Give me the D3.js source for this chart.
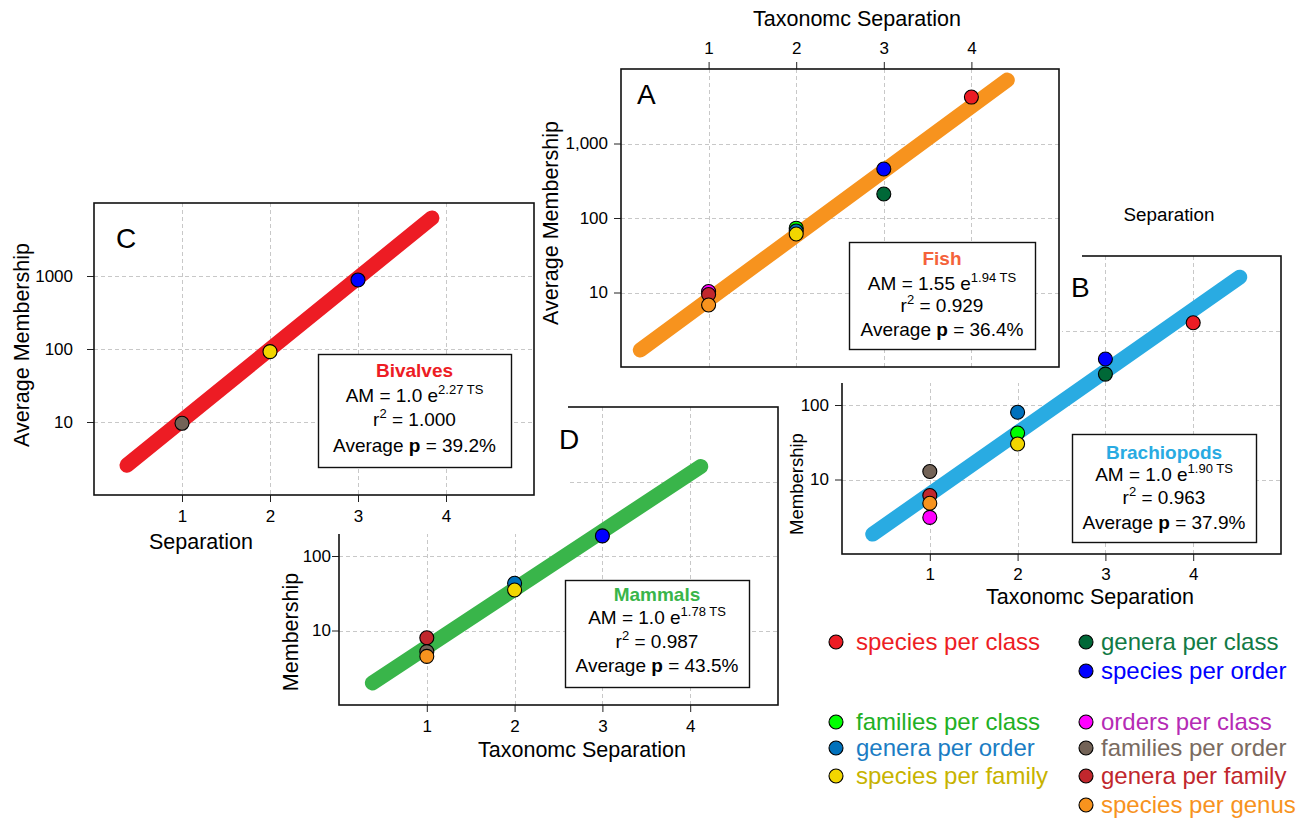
<!DOCTYPE html>
<html>
<head>
<meta charset="utf-8">
<script src="https://d3js.org/d3.v7.min.js"></script>
<style>
body { margin: 0; background: #fff; }
</style>
</head>
<body>
<div id="chart"></div>
<script>
// ---------------- data ----------------
const tsTicks = [1, 2, 3, 4];
const amTicks = [10, 100, 1000];

const categories = ["species per class", "genera per class", "species per order",
  "families per class", "orders per class", "genera per order",
  "families per order", "species per family", "genera per family", "species per genus"];

// A - fish
const fishPoints = [
  {ts: 1, am: 10.3, cat: "orders per class"},
  {ts: 1, am: 9.4, cat: "genera per family"},
  {ts: 1, am: 6.8, cat: "species per genus"},
  {ts: 2, am: 73, cat: "families per class"},
  {ts: 2, am: 67, cat: "genera per order"},
  {ts: 2, am: 61, cat: "species per family"},
  {ts: 3, am: 210, cat: "genera per class"},
  {ts: 3, am: 455, cat: "species per order"},
  {ts: 4, am: 4200, cat: "species per class"}
];
const fishFit = [{ts: 0.22, am: 1.69}, {ts: 4.41, am: 7100}];
const fishStats = {name: "Fish", coef: "1.55", rate: "1.94", r2: "0.929", p: "36.4%"};

// B - brachiopods
const brachPoints = [
  {ts: 1, am: 12.8, cat: "families per order"},
  {ts: 1, am: 6.1, cat: "genera per family"},
  {ts: 1, am: 4.8, cat: "species per genus"},
  {ts: 1, am: 3.1, cat: "orders per class"},
  {ts: 2, am: 80, cat: "genera per order"},
  {ts: 2, am: 42, cat: "families per class"},
  {ts: 2, am: 30, cat: "species per family"},
  {ts: 3, am: 414, cat: "species per order"},
  {ts: 3, am: 260, cat: "genera per class"},
  {ts: 4, am: 1270, cat: "species per class"}
];
const brachFit = [{ts: 0.35, am: 1.85}, {ts: 4.53, am: 5200}];
const brachStats = {name: "Brachiopods", coef: "1.0", rate: "1.90", r2: "0.963", p: "37.9%"};

// C - bivalves
const bivalvePoints = [
  {ts: 1, am: 9.6, cat: "families per order"},
  {ts: 2, am: 92, cat: "species per family"},
  {ts: 3, am: 883, cat: "species per order"}
];
const bivalveFit = [{ts: 0.375, am: 2.56}, {ts: 3.84, am: 6250}];
const bivalveStats = {name: "Bivalves", coef: "1.0", rate: "2.27", r2: "1.000", p: "39.2%"};

// D - mammals
const mammalPoints = [
  {ts: 1, am: 8.0, cat: "genera per family"},
  {ts: 1, am: 5.2, cat: "families per order"},
  {ts: 1, am: 4.5, cat: "species per genus"},
  {ts: 2, am: 43, cat: "genera per order"},
  {ts: 2, am: 35, cat: "species per family"},
  {ts: 3, am: 186, cat: "species per order"}
];
const mammalFit = [{ts: 0.38, am: 1.98}, {ts: 4.12, am: 1590}];
const mammalStats = {name: "Mammals", coef: "1.0", rate: "1.78", r2: "0.987", p: "43.5%"};

// ---------------- styles ----------------
const FONT = "'Liberation Sans', Arial, Helvetica, sans-serif";
const catFill = {
  "species per class": "#ed1c24", "genera per class": "#006837", "species per order": "#0000ff",
  "families per class": "#00ff00", "orders per class": "#ff00ff", "genera per order": "#0071bc",
  "families per order": "#736357", "species per family": "#f2d600", "genera per family": "#c1272d",
  "species per genus": "#f7931e"
};
const catText = {
  "species per class": "#ed1c24", "genera per class": "#117a45", "species per order": "#0000ff",
  "families per class": "#22b024", "orders per class": "#b52bb5", "genera per order": "#1b7dc4",
  "families per order": "#7a6b60", "species per family": "#c7b300", "genera per family": "#c1272d",
  "species per genus": "#f7931e"
};
const fitColor = {Fish: "#f7931e", Brachiopods: "#29abe2", Bivalves: "#ed1c24", Mammals: "#39b54a"};
const nameColor = {Fish: "#f4623a", Brachiopods: "#29abe2", Bivalves: "#ed1c24", Mammals: "#39b54a"};

const svg = d3.select("#chart").append("svg")
  .attr("width", 1307).attr("height", 820)
  .style("font-family", FONT);

const deferred = [];   // things drawn after every panel (on top)

// ---------------- panel drawing ----------------
function drawPanel(p) {
  const g = svg.append("g");

  // white background of the pasted panel (hides what lies below)
  (p.cover || []).forEach(c => g.append("rect")
    .attr("x", c[0]).attr("y", c[1]).attr("width", c[2]).attr("height", c[3])
    .attr("fill", "#fff"));

  const x = d3.scaleLinear().domain([0, 5]).range([p.left, p.right]);
  const y = d3.scaleLog().domain([1, 1e4]).range([p.bottom, p.top]);

  // grid
  g.selectAll(null).data(tsTicks).join("line")
    .attr("x1", d => Math.round(x(d)) + 0.5).attr("x2", d => Math.round(x(d)) + 0.5)
    .attr("y1", p.top).attr("y2", p.bottom)
    .attr("stroke", "#c8c8c8").attr("stroke-dasharray", "4,3");
  g.selectAll(null).data(amTicks).join("line")
    .attr("y1", d => Math.round(y(d)) + 0.5).attr("y2", d => Math.round(y(d)) + 0.5)
    .attr("x1", p.left).attr("x2", p.right)
    .attr("stroke", "#c8c8c8").attr("stroke-dasharray", "4,3");

  // axes
  const xAxis = (p.xTop ? d3.axisTop(x) : d3.axisBottom(x))
    .tickValues(tsTicks).tickFormat(d3.format("d")).tickSize(7).tickPadding(p.xPad || 8);
  g.append("g")
    .attr("transform", `translate(0,${p.xTop ? p.top : p.bottom})`)
    .call(xAxis)
    .call(a => a.select(".domain").remove())
    .attr("font-size", 17).attr("font-family", FONT)
    .call(a => a.selectAll("line").attr("stroke", "#222"));

  const yAxis = d3.axisLeft(y).tickValues(amTicks).tickFormat(p.yFmt)
    .tickSize(7).tickPadding(p.yPad);
  g.append("g")
    .attr("transform", `translate(${p.left},0)`)
    .call(yAxis)
    .call(a => a.select(".domain").remove())
    .attr("font-size", 17).attr("font-family", FONT)
    .call(a => a.selectAll("line").attr("stroke", "#222"));

  // frame
  g.append("rect")
    .attr("x", p.left).attr("y", p.top)
    .attr("width", p.right - p.left).attr("height", p.bottom - p.top)
    .attr("fill", "none").attr("stroke", "#111").attr("stroke-width", 1.6);

  // axis titles
  g.append("text").attr("x", p.xTitle[0]).attr("y", p.xTitle[1])
    .attr("text-anchor", "middle").attr("font-size", p.xTitle[3] || 21.5)
    .text(p.xTitle[2]);
  g.append("text")
    .attr("transform", `translate(${p.yTitle[0]},${p.yTitle[1]}) rotate(-90)`)
    .attr("text-anchor", "middle").attr("font-size", p.yTitle[3] || 21.5)
    .text(p.yTitle[2]);
  if (p.extraText) {
    g.append("text").attr("x", p.extraText[0]).attr("y", p.extraText[1])
      .attr("text-anchor", "middle").attr("font-size", p.extraText[3])
      .text(p.extraText[2]);
  }

  // panel letter
  const letter = sel => sel.append("text").attr("x", p.letter[0]).attr("y", p.letter[1])
    .attr("font-size", 28).text(p.letter[2]);
  if (p.letterOnTop) deferred.push(letter); else letter(g);

  // fitted line
  const line = d3.line().x(d => x(d.ts)).y(d => y(d.am));
  g.append("path").datum(p.fit)
    .attr("d", line)
    .attr("fill", "none")
    .attr("stroke", fitColor[p.stats.name])
    .attr("stroke-width", 15)
    .attr("stroke-linecap", "round");

  // points
  g.selectAll(null).data(p.points).join("circle")
    .attr("cx", d => x(d.ts)).attr("cy", d => y(d.am)).attr("r", 7)
    .attr("fill", d => catFill[d.cat])
    .attr("stroke", "#000").attr("stroke-width", 1.1);

  // stats box
  const b = p.box;
  const cx = b[0] + b[2] / 2;
  g.append("rect").attr("x", b[0] + 0.5).attr("y", b[1] + 0.5)
    .attr("width", b[2]).attr("height", b[3])
    .attr("fill", "#fff").attr("stroke", "#111").attr("stroke-width", 1.4);
  const rows = p.rows;
  const s = p.stats;
  g.append("text").attr("x", cx).attr("y", b[1] + rows[0] + 7)
    .attr("text-anchor", "middle").attr("font-size", 19).attr("font-weight", "bold")
    .attr("fill", nameColor[s.name]).text(s.name);
  const t2 = g.append("text").attr("x", cx).attr("y", b[1] + rows[1] + 7)
    .attr("text-anchor", "middle").attr("font-size", 19);
  t2.append("tspan").text("AM = " + s.coef + " e");
  t2.append("tspan").attr("dy", -8).attr("font-size", 13).text(s.rate + " TS");
  const t3 = g.append("text").attr("x", cx).attr("y", b[1] + rows[2] + 7)
    .attr("text-anchor", "middle").attr("font-size", 19);
  t3.append("tspan").text("r");
  t3.append("tspan").attr("dy", -8).attr("font-size", 13).text("2");
  t3.append("tspan").attr("dy", 8).text(" = " + s.r2);
  const t4 = g.append("text").attr("x", cx).attr("y", b[1] + rows[3] + 7)
    .attr("text-anchor", "middle").attr("font-size", 19);
  t4.append("tspan").text("Average ");
  t4.append("tspan").attr("font-weight", "bold").text("p");
  t4.append("tspan").text(" = " + s.p);
}

const plain = d => String(d);

// B (bottom layer)
drawPanel({
  left: 842, right: 1281, top: 256, bottom: 554, xTop: false,
  yFmt: plain, yPad: 6, xPad: 7,
  xTitle: [1090, 603.5, "Taxonomc Separation"],
  yTitle: [803, 484, "Membership", 18.5],
  extraText: [1169, 221, "Separation", 18.8],
  letter: [1071, 297, "B"],
  box: [1072, 434, 184, 108], rows: [18, 40, 63, 88],
  fit: brachFit, points: brachPoints, stats: brachStats
});

// D
drawPanel({
  left: 339, right: 778, top: 407, bottom: 705, xTop: false,
  yFmt: plain, yPad: 1,
  xTitle: [582, 757, "Taxonomc Separation"],
  yTitle: [298, 632, "Membership"],
  letter: [559, 449, "D"], letterOnTop: true,
  box: [565, 580, 184, 107], rows: [14, 37, 61, 85],
  fit: mammalFit, points: mammalPoints, stats: mammalStats
});

// C (covers part of D)
drawPanel({
  cover: [[0, 185, 568, 349]],
  left: 94, right: 534, top: 203, bottom: 495, xTop: false,
  yFmt: plain, yPad: 14,
  xTitle: [201, 549, "Separation"],
  yTitle: [29, 345, "Average Membership"],
  letter: [116, 248, "C"],
  box: [318, 354, 193, 113], rows: [16, 41, 65, 91],
  fit: bivalveFit, points: bivalvePoints, stats: bivalveStats
});

// A (covers part of B)
drawPanel({
  cover: [[540, 0, 522, 383], [1059, 248, 23, 14]],
  left: 621, right: 1059, top: 69, bottom: 367, xTop: true,
  yFmt: d3.format(","), yPad: 6,
  xTitle: [857, 26, "Taxonomc Separation"],
  yTitle: [558, 223, "Average Membership"],
  letter: [637, 104, "A"],
  box: [849, 242, 186, 107], rows: [16, 41, 63, 87],
  fit: fishFit, points: fishPoints, stats: fishStats
});

const topLayer = svg.append("g");
deferred.forEach(f => f(topLayer));

// ---------------- legend ----------------
const legendColX = [836, 1086];
const legendTextX = [856, 1101];
const legendRowY = [642, 671, 722, 748, 776, 805];
const legendSlot = [[0, 0], [1, 0], [1, 1], [0, 2], [1, 2], [0, 3], [1, 3], [0, 4], [1, 4], [1, 5]];

const lg = svg.append("g");
lg.selectAll(null).data(categories).join("circle")
  .attr("cx", (d, i) => legendColX[legendSlot[i][0]])
  .attr("cy", (d, i) => legendRowY[legendSlot[i][1]])
  .attr("r", 7)
  .attr("fill", d => catFill[d])
  .attr("stroke", "#000").attr("stroke-width", 1.1);
lg.selectAll(null).data(categories).join("text")
  .attr("x", (d, i) => legendTextX[legendSlot[i][0]])
  .attr("y", (d, i) => legendRowY[legendSlot[i][1]] + 8)
  .attr("font-size", 24)
  .attr("fill", d => catText[d])
  .text(d => d);
</script>
</body>
</html>
